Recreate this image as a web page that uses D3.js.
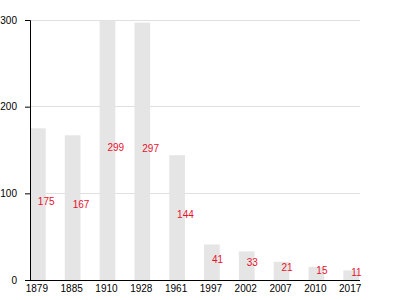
<!DOCTYPE html>
<html><head><meta charset="utf-8">
<script src="https://cdn.jsdelivr.net/npm/d3@7"></script>
<style>body{margin:0;background:#fff}svg{display:block}text{font-family:"Liberation Sans",Arial,sans-serif}</style>
</head><body>
<svg id="c" width="400" height="300"></svg>
<script>
const years = ["1879","1885","1910","1928","1961","1997","2002","2007","2010","2017"];
const population = [175,167,299,297,144,41,33,21,15,11];
const yTicks = [0,100,200,300];

(function(){
const svg = d3.select("#c");
const mLeft = 30, mRight = 359, mTop = 20, mBottom = 280;
const x = d3.scaleBand().domain(years).range([mLeft, mRight]).paddingInner(0.55).paddingOuter(0);
const y = d3.scaleLinear().domain([0,300]).range([mBottom, mTop]);

// gridlines
svg.append("g").selectAll("line").data(yTicks.filter(d=>d>0)).join("line")
  .attr("x1", mLeft).attr("x2", 360).attr("y1", d=>y(d)).attr("y2", d=>y(d))
  .attr("stroke", "#e0e0e0").attr("stroke-width", 1).attr("shape-rendering","crispEdges");

// bars
svg.append("g").selectAll("rect").data(population).join("rect")
  .attr("x", (d,i)=>x(years[i])).attr("width", x.bandwidth())
  .attr("y", d=>y(d)).attr("height", d=>mBottom - y(d))
  .attr("fill", "#e5e5e5");

// value labels
svg.append("g").selectAll("text").data(population).join("text")
  .attr("x", (d,i)=>x(years[i]) + x.bandwidth()/2)
  .attr("y", d=>(y(d)+mBottom)/2 + 0.5)
  .attr("fill", "#e8112d").attr("font-size", 10)
  .text(d=>d);

// y axis
const ya = svg.append("g").attr("transform", `translate(${mLeft},0)`)
  .call(d3.axisLeft(y).tickValues(yTicks).tickSize(5).tickPadding(8).tickFormat(d3.format("d")));
ya.select(".domain").attr("stroke","#000");
ya.selectAll("text").attr("font-size", 10).attr("fill","#000").attr("font-family","Liberation Sans, Arial, sans-serif");

// x axis
const xa = svg.append("g").attr("transform", `translate(0,${mBottom})`)
  .call(d3.axisBottom(x).tickSize(0).tickPadding(5).tickSizeOuter(0));
xa.select(".domain").attr("stroke","#000").attr("d", `M${mLeft},0.5H360`);
xa.selectAll("text").attr("font-size", 10).attr("fill","#000").attr("dx", -1).attr("font-family","Liberation Sans, Arial, sans-serif");
})();
</script>
</body></html>
